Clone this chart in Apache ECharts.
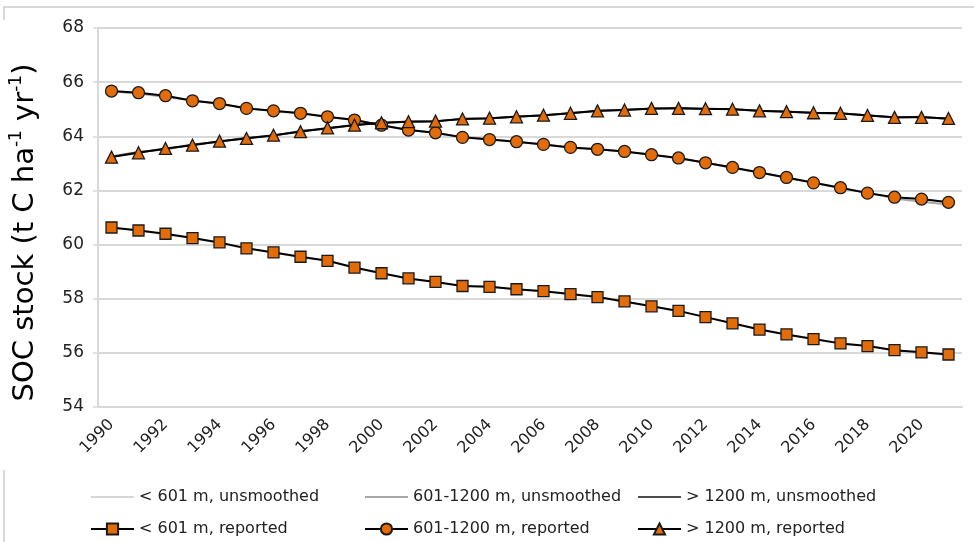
<!DOCTYPE html>
<html>
<head>
<meta charset="utf-8">
<script src="https://cdn.jsdelivr.net/npm/echarts@6/dist/echarts.min.js"></script>
<style>
  html, body { margin: 0; padding: 0; background: #fff; }
  #chart { width: 974px; height: 542px; }
</style>
</head>
<body>
<div id="chart"></div>
<script>
// Years on the category axis
const years = ['1990','1991','1992','1993','1994','1995','1996','1997','1998','1999',
  '2000','2001','2002','2003','2004','2005','2006','2007','2008','2009',
  '2010','2011','2012','2013','2014','2015','2016','2017','2018','2019',
  '2020','2021'];

// Value axis range (t C ha-1 yr-1)
const yMin = 54;
const yMax = 68;
const yStep = 2;

// Unsmoothed estimates per elevation band
const low_unsmoothed = [60.60,60.55,60.35,60.25,60.05,59.85,59.72,59.52,59.42,59.12,
  58.95,58.73,58.63,58.45,58.46,58.33,58.29,58.15,58.07,57.88,
  57.73,57.53,57.33,57.07,56.87,56.66,56.52,56.33,56.28,56.08,
  56.03,55.90];
const mid_unsmoothed = [65.65,65.58,65.45,65.33,65.18,65.05,64.92,64.86,64.70,64.62,
  64.40,64.24,64.12,63.97,63.90,63.79,63.71,63.58,63.53,63.43,
  63.33,63.18,63.03,62.83,62.67,62.46,62.29,62.08,61.92,61.70,
  61.58,61.48];
const high_unsmoothed = [63.25,63.42,63.52,63.70,63.80,63.95,64.02,64.20,64.28,64.43,
  64.49,64.55,64.55,64.65,64.66,64.73,64.77,64.86,64.93,64.98,
  65.02,65.05,65.01,65.01,64.93,64.92,64.86,64.84,64.78,64.69,
  64.72,64.64];

// Reported (smoothed) values per elevation band
const low_reported = [60.63,60.52,60.40,60.24,60.08,59.86,59.71,59.55,59.40,59.15,
  58.94,58.75,58.62,58.47,58.44,58.35,58.28,58.17,58.06,57.90,
  57.72,57.55,57.32,57.09,56.86,56.68,56.51,56.35,56.25,56.10,
  56.02,55.94];
const mid_reported = [65.67,65.61,65.50,65.31,65.21,65.03,64.94,64.85,64.72,64.60,
  64.41,64.23,64.13,63.96,63.88,63.80,63.70,63.59,63.52,63.44,
  63.32,63.20,63.02,62.85,62.66,62.48,62.28,62.10,61.90,61.75,
  61.68,61.56];
const high_reported = [63.23,63.39,63.55,63.67,63.82,63.92,64.04,64.17,64.31,64.41,
  64.50,64.54,64.56,64.64,64.67,64.72,64.78,64.85,64.94,64.97,
  65.03,65.03,65.02,65.00,64.94,64.91,64.87,64.85,64.77,64.70,
  64.70,64.66];

const FONT = 'DejaVu Sans';
const ORANGE = '#e36c0a';
const GRID_GRAY = '#d9d9d9';
// plain stroke used as the legend key of the unsmoothed lines
const LINE_ICON = 'path://M0,0 L43,0 L43,2 L0,2 Z';

function unsmoothed(name, data, color) {
  return {
    name, type: 'line', data,
    symbol: 'none', z: 1,
    lineStyle: { color, width: 2 },
    itemStyle: { color },
    emphasis: { disabled: true }
  };
}
function reported(name, data, symbol, size) {
  return {
    name, type: 'line', data,
    symbol, symbolSize: size, showAllSymbol: true, z: 3,
    lineStyle: { color: '#000', width: 2 },
    itemStyle: { color: ORANGE, borderColor: '#1a1a1a', borderWidth: 1.3 },
    emphasis: { disabled: true }
  };
}

function legendColumn(left, lineName, markName) {
  return {
    orient: 'vertical', left, top: 489, padding: 0,
    itemWidth: 43, itemHeight: 14, itemGap: 16,
    textStyle: { fontFamily: FONT, fontSize: 16, color: '#222' },
    data: [{ name: lineName, icon: LINE_ICON }, { name: markName }]
  };
}

const chart = echarts.init(document.getElementById('chart'));
chart.setOption({
  animation: false,
  backgroundColor: '#fff',
  grid: { left: 98, right: 12, top: 28, bottom: 135 },
  xAxis: {
    type: 'category', data: years, boundaryGap: true,
    axisLine: { lineStyle: { color: GRID_GRAY, width: 2 } },
    axisTick: { interval: 0, length: 5, lineStyle: { color: GRID_GRAY, width: 1.5 } },
    axisLabel: {
      interval: 1, rotate: 45, margin: 15,
      fontFamily: FONT, fontSize: 16, color: '#222'
    },
    splitLine: { show: false }
  },
  yAxis: {
    type: 'value', min: yMin, max: yMax, interval: yStep,
    axisLine: { show: true, lineStyle: { color: GRID_GRAY, width: 2 } },
    axisTick: { show: true, length: 5, lineStyle: { color: GRID_GRAY, width: 1.5 } },
    axisLabel: { fontFamily: FONT, fontSize: 17, color: '#222', margin: 14 },
    splitLine: { lineStyle: { color: GRID_GRAY, width: 2 } },
    name: 'SOC stock (t C ha{sup|-1} yr{sup|-1})',
    nameLocation: 'middle', nameGap: 56,
    nameTextStyle: {
      fontFamily: FONT, fontSize: 29, color: '#000', lineHeight: 34,
      padding: [0, 30, 0, 0],
      rich: { sup: { fontFamily: FONT, fontSize: 17, lineHeight: 17, verticalAlign: 'top', color: '#000' } }
    }
  },
  legend: [
    legendColumn(90, '< 601 m, unsmoothed', '< 601 m, reported'),
    legendColumn(364, '601-1200 m, unsmoothed', '601-1200 m, reported'),
    legendColumn(637, '> 1200 m, unsmoothed', '> 1200 m, reported')
  ],
  series: [
    unsmoothed('< 601 m, unsmoothed', low_unsmoothed, '#d6d6d6'),
    unsmoothed('601-1200 m, unsmoothed', mid_unsmoothed, '#a6a6a6'),
    unsmoothed('> 1200 m, unsmoothed', high_unsmoothed, '#4d4d4d'),
    reported('< 601 m, reported', low_reported, 'rect', 11),
    reported('601-1200 m, reported', mid_reported, 'circle', 12),
    reported('> 1200 m, reported', high_reported, 'triangle', 12)
  ],
  graphic: [
    { type: 'polyline', shape: { points: [[4, 20], [4, 7], [974, 7]] },
      style: { stroke: GRID_GRAY, lineWidth: 2, fill: null }, silent: true },
    { type: 'line', shape: { x1: 4, y1: 470, x2: 4, y2: 542 },
      style: { stroke: GRID_GRAY, lineWidth: 2 }, silent: true }
  ]
});
</script>
</body>
</html>
